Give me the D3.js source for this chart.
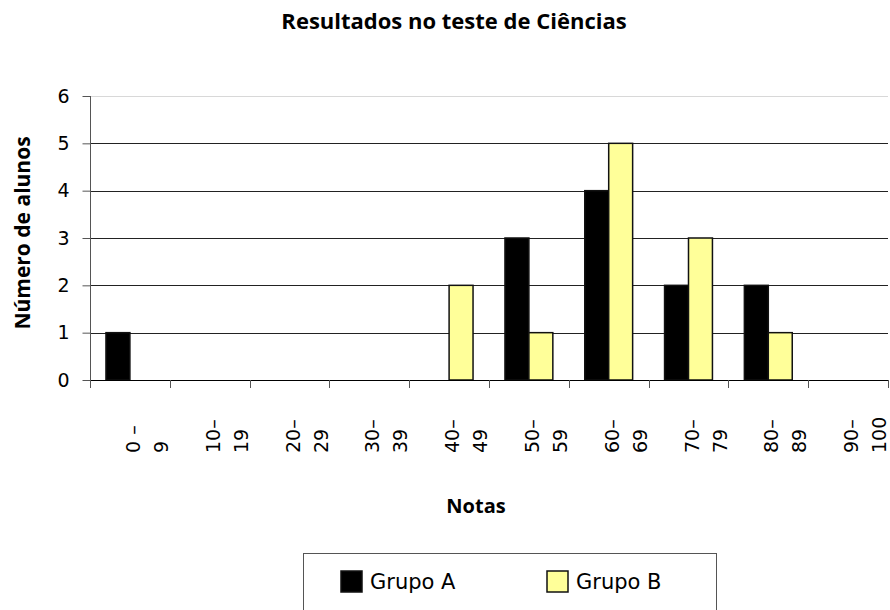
<!DOCTYPE html>
<meta charset="utf-8">
<style>
body { margin: 0; background: #fff; }
text { font-family: "Open Sans", "DejaVu Sans", sans-serif; fill: #000; }
.title, .axis-title { font-weight: bold; font-size: 20px; }
.title { font-size: 22px; }
.tick-label { font-family: "DejaVu Sans", sans-serif; font-size: 19px; }
.legend-label { font-family: "DejaVu Sans", sans-serif; font-size: 21px; }
</style>
<svg width="890" height="610"></svg>
<script src="https://d3js.org/d3.v7.min.js"></script>
<script>

// data
var categories = [["0 –", "9"], ["10–", "19"], ["20–", "29"], ["30–", "39"], ["40–", "49"],
                  ["50–", "59"], ["60–", "69"], ["70–", "79"], ["80–", "89"], ["90–", "100"]];
var grupoA = [1, 0, 0, 0, 0, 3, 4, 2, 2, 0];
var grupoB = [0, 0, 0, 0, 2, 1, 5, 3, 1, 0];
var yTicks = [0, 1, 2, 3, 4, 5, 6];
var seriesNames = ["Grupo A", "Grupo B"];
var seriesColors = ["#000000", "#ffff99"];

var svg = d3.select("svg"),
    plotLeft = 90, plotRight = 888, plotTop = 96, plotBottom = 380;

var x0 = d3.scaleBand()
    .domain(d3.range(categories.length))
    .range([plotLeft, plotRight])
    .padding(0);

var bw = x0.bandwidth();

var x1 = d3.scaleBand()
    .domain([0, 1])
    .range([bw * 0.2, bw * 0.8]);

var y = d3.scaleLinear()
    .domain([0, 6])
    .range([plotBottom, plotTop]);

// title
svg.append("text")
    .attr("class", "title")
    .attr("x", 454).attr("y", 29)
    .attr("text-anchor", "middle")
    .text("Resultados no teste de Ciências");

// gridlines
svg.append("g").selectAll("line")
    .data(yTicks.filter(function(d) { return d > 0; }))
    .enter().append("line")
    .attr("x1", plotLeft).attr("x2", plotRight)
    .attr("y1", function(d) { return Math.round(y(d)) + 0.5; })
    .attr("y2", function(d) { return Math.round(y(d)) + 0.5; })
    .attr("stroke", function(d) { return d === 6 ? "#d8d8d8" : "#222"; })
    .attr("stroke-width", 1);

// y axis
var yAxis = svg.append("g")
    .attr("transform", "translate(" + (plotLeft + 0.5) + ",0)")
    .call(d3.axisLeft(y).tickValues(yTicks).tickSize(8).tickPadding(13).tickFormat(d3.format("d")));
yAxis.attr("font-family", null).attr("font-size", null);
yAxis.select(".domain").attr("stroke", "#555").attr("d", "M0," + plotTop + "V" + plotBottom);
yAxis.selectAll(".tick line").attr("stroke", "#555");
yAxis.selectAll(".tick text").attr("class", "tick-label").attr("fill", "#000");

// bars
var groups = svg.append("g").selectAll("g")
    .data(categories.map(function(c, i) {
      return [{s: 0, v: grupoA[i]}, {s: 1, v: grupoB[i]}];
    }))
    .enter().append("g")
    .attr("transform", function(d, i) { return "translate(" + x0(i) + ",0)"; });

groups.selectAll("rect")
    .data(function(d) { return d.filter(function(e) { return e.v > 0; }); })
    .enter().append("rect")
    .attr("x", function(d) { return x1(d.s); })
    .attr("y", function(d) { return y(d.v); })
    .attr("width", x1.bandwidth())
    .attr("height", function(d) { return y(0) - y(d.v); })
    .attr("fill", function(d) { return seriesColors[d.s]; })
    .attr("stroke", "#111")
    .attr("stroke-width", 1.5);

// x axis
svg.append("line")
    .attr("x1", plotLeft).attr("x2", plotRight)
    .attr("y1", plotBottom + 0.5).attr("y2", plotBottom + 0.5)
    .attr("stroke", "#000");

svg.append("g").selectAll("line")
    .data(d3.range(categories.length + 1))
    .enter().append("line")
    .attr("x1", function(i) { return Math.round(plotLeft + i * bw) + 0.5; })
    .attr("x2", function(i) { return Math.round(plotLeft + i * bw) + 0.5; })
    .attr("y1", plotBottom).attr("y2", plotBottom + 8)
    .attr("stroke", "#555");

// x tick labels, rotated, two lines each
var xl = svg.append("g").selectAll("text")
    .data(categories)
    .enter().append("text")
    .attr("class", "tick-label")
    .attr("transform", function(d, i) {
      return "translate(" + (x0(i) + bw / 2 + 10) + ",453) rotate(-90)";
    })
    .attr("text-anchor", "start");

xl.selectAll("tspan")
    .data(function(d) { return d; })
    .enter().append("tspan")
    .attr("x", 0)
    .attr("y", function(d, j) { return j * 28; })
    .text(function(d) { return d; });

// axis titles
svg.append("text")
    .attr("class", "axis-title")
    .attr("x", 476).attr("y", 513)
    .attr("text-anchor", "middle")
    .text("Notas");

svg.append("text")
    .attr("class", "axis-title")
    .attr("transform", "translate(30,233) rotate(-90)")
    .attr("text-anchor", "middle")
    .style("font-size", "21px")
    .text("Número de alunos");

// legend
var legend = svg.append("g");
legend.append("rect")
    .attr("x", 303.5).attr("y", 553.5)
    .attr("width", 413).attr("height", 70)
    .attr("fill", "#fff").attr("stroke", "#555");

var li = legend.selectAll("g")
    .data(seriesNames)
    .enter().append("g")
    .attr("transform", function(d, i) { return "translate(" + (341 + i * 206) + ",571)"; });

li.append("rect")
    .attr("width", 21).attr("height", 21)
    .attr("fill", function(d, i) { return seriesColors[i]; })
    .attr("stroke", "#111").attr("stroke-width", 1.5);

li.append("text")
    .attr("class", "legend-label")
    .attr("x", 29).attr("y", 18)
    .text(function(d) { return d; });

</script>
